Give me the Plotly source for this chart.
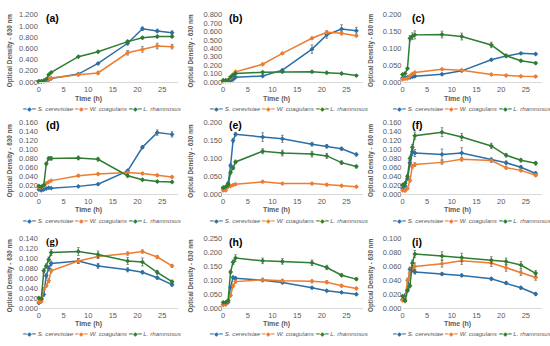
import plotly.graph_objects as go

W, H = 550, 346
time_h = [0, 0.5, 1, 1.5, 2, 2.5, 8, 12, 18, 21, 24, 27]
series_names = ["S. cerevisiae", "W. coagulans", "L. rhamnosus"]
panel_labels = ["(a)", "(b)", "(c)", "(d)", "(e)", "(f)", "(g)", "(h)", "(i)"]

# Optical density values
a_sc = [0.01, 0.01, 0.01, 0.02, 0.04, 0.06, 0.14, 0.33, 0.69, 0.95, 0.91, 0.88]
a_wc = [0.01, 0.01, 0.02, 0.03, 0.05, 0.07, 0.13, 0.16, 0.52, 0.58, 0.64, 0.63]
a_lr = [0.01, 0.01, 0.02, 0.05, 0.13, 0.17, 0.45, 0.54, 0.72, 0.79, 0.81, 0.81]
b_sc = [0.01, 0.01, 0.01, 0.01, 0.03, 0.055, 0.07, 0.14, 0.39, 0.56, 0.63, 0.61]
b_wc = [0.01, 0.01, 0.02, 0.05, 0.09, 0.12, 0.21, 0.34, 0.52, 0.59, 0.58, 0.55]
b_lr = [0.02, 0.02, 0.02, 0.06, 0.08, 0.10, 0.115, 0.12, 0.12, 0.11, 0.10, 0.075]
c_sc = [0.012, 0.013, 0.014, 0.013, 0.015, 0.017, 0.023, 0.033, 0.066, 0.077, 0.085, 0.083]
c_wc = [0.008, 0.009, 0.010, 0.018, 0.024, 0.028, 0.038, 0.035, 0.022, 0.019, 0.017, 0.016]
c_lr = [0.022, 0.025, 0.040, 0.130, 0.136, 0.140, 0.141, 0.135, 0.110, 0.078, 0.063, 0.056]
d_sc = [0.010, 0.008, 0.010, 0.012, 0.014, 0.013, 0.017, 0.022, 0.052, 0.105, 0.138, 0.134]
d_wc = [0.015, 0.015, 0.018, 0.024, 0.027, 0.030, 0.041, 0.045, 0.048, 0.046, 0.042, 0.038]
d_lr = [0.018, 0.016, 0.020, 0.068, 0.080, 0.080, 0.081, 0.078, 0.041, 0.032, 0.028, 0.027]
e_sc = [0.015, 0.015, 0.030, 0.080, 0.150, 0.168, 0.160, 0.155, 0.140, 0.134, 0.127, 0.111]
e_wc = [0.010, 0.010, 0.020, 0.022, 0.025, 0.027, 0.034, 0.029, 0.029, 0.026, 0.023, 0.020]
e_lr = [0.018, 0.020, 0.025, 0.060, 0.073, 0.090, 0.120, 0.115, 0.112, 0.107, 0.088, 0.077]
f_sc = [0.012, 0.018, 0.035, 0.070, 0.095, 0.092, 0.089, 0.092, 0.077, 0.070, 0.060, 0.046]
f_wc = [0.008, 0.007, 0.012, 0.030, 0.062, 0.066, 0.071, 0.078, 0.075, 0.059, 0.053, 0.042]
f_lr = [0.020, 0.024, 0.040, 0.080, 0.105, 0.131, 0.139, 0.128, 0.108, 0.087, 0.076, 0.069]
g_sc = [0.010, 0.017, 0.027, 0.065, 0.080, 0.090, 0.095, 0.085, 0.077, 0.072, 0.061, 0.047]
g_wc = [0.012, 0.013, 0.038, 0.045, 0.055, 0.075, 0.095, 0.104, 0.110, 0.114, 0.103, 0.085]
g_lr = [0.020, 0.019, 0.075, 0.085, 0.098, 0.112, 0.114, 0.108, 0.095, 0.093, 0.072, 0.053]
h_sc = [0.012, 0.013, 0.020, 0.075, 0.110, 0.107, 0.100, 0.092, 0.073, 0.062, 0.056, 0.049]
h_wc = [0.010, 0.012, 0.025, 0.045, 0.080, 0.095, 0.102, 0.098, 0.096, 0.093, 0.080, 0.070]
h_lr = [0.020, 0.020, 0.027, 0.130, 0.165, 0.180, 0.170, 0.168, 0.163, 0.146, 0.118, 0.104]
i_sc = [0.012, 0.018, 0.026, 0.056, 0.055, 0.052, 0.049, 0.047, 0.042, 0.036, 0.029, 0.020]
i_wc = [0.011, 0.012, 0.040, 0.050, 0.057, 0.060, 0.064, 0.068, 0.065, 0.058, 0.051, 0.044]
i_lr = [0.017, 0.010, 0.025, 0.032, 0.065, 0.078, 0.075, 0.073, 0.069, 0.067, 0.062, 0.050]

# Error bar half-lengths (estimated)
a_sc_e = [0, 0, 0, 0, 0, 0, 0.01, 0.01, 0.03, 0.03, 0.03, 0.03]
a_wc_e = [0, 0, 0, 0, 0, 0, 0.02, 0.03, 0.04, 0.05, 0.05, 0.04]
a_lr_e = [0, 0, 0, 0, 0.01, 0.01, 0.01, 0.01, 0.02, 0.02, 0.02, 0.02]
b_sc_e = [0, 0, 0, 0, 0, 0, 0.01, 0.01, 0.05, 0.04, 0.05, 0.04]
b_wc_e = [0, 0, 0, 0, 0, 0, 0.01, 0.01, 0.01, 0.02, 0.02, 0.01]
b_lr_e = [0, 0, 0, 0, 0, 0, 0.005, 0.005, 0.005, 0.005, 0.005, 0.005]
c_sc_e = [0, 0, 0, 0, 0, 0, 0.002, 0.002, 0.002, 0.002, 0.002, 0.002]
c_wc_e = [0, 0, 0, 0, 0, 0, 0.002, 0.002, 0.002, 0.002, 0.002, 0.002]
c_lr_e = [0, 0, 0, 0.008, 0.01, 0.012, 0.01, 0.01, 0.008, 0.004, 0.003, 0.003]
d_sc_e = [0, 0, 0, 0, 0, 0, 0.002, 0.002, 0.003, 0.003, 0.006, 0.006]
d_wc_e = [0, 0, 0, 0, 0, 0, 0.002, 0.002, 0.002, 0.002, 0.002, 0.002]
d_lr_e = [0, 0, 0, 0.003, 0.004, 0.004, 0.004, 0.004, 0.003, 0.002, 0.002, 0.002]
e_sc_e = [0, 0, 0, 0.005, 0.006, 0.005, 0.012, 0.01, 0.005, 0.005, 0.004, 0.004]
e_wc_e = [0, 0, 0, 0, 0, 0, 0.002, 0.002, 0.002, 0.002, 0.002, 0.002]
e_lr_e = [0, 0, 0, 0.004, 0.004, 0.005, 0.007, 0.008, 0.008, 0.007, 0.005, 0.004]
f_sc_e = [0, 0, 0.003, 0.005, 0.008, 0.008, 0.012, 0.012, 0.004, 0.004, 0.004, 0.004]
f_wc_e = [0, 0, 0, 0.003, 0.004, 0.004, 0.004, 0.004, 0.004, 0.003, 0.003, 0.003]
f_lr_e = [0, 0, 0.003, 0.005, 0.006, 0.008, 0.01, 0.008, 0.006, 0.004, 0.004, 0.004]
g_sc_e = [0, 0, 0.003, 0.004, 0.005, 0.005, 0.005, 0.005, 0.004, 0.003, 0.003, 0.003]
g_wc_e = [0, 0, 0.003, 0.003, 0.004, 0.004, 0.005, 0.004, 0.003, 0.003, 0.003, 0.003]
g_lr_e = [0, 0, 0.004, 0.004, 0.005, 0.006, 0.008, 0.007, 0.007, 0.008, 0.004, 0.003]
h_sc_e = [0, 0, 0, 0.004, 0.005, 0.004, 0.004, 0.004, 0.003, 0.003, 0.003, 0.003]
h_wc_e = [0, 0, 0, 0.004, 0.005, 0.005, 0.005, 0.005, 0.005, 0.005, 0.004, 0.004]
h_lr_e = [0, 0, 0, 0.006, 0.008, 0.012, 0.01, 0.01, 0.01, 0.008, 0.005, 0.005]
i_sc_e = [0, 0, 0.002, 0.003, 0.003, 0.003, 0.002, 0.002, 0.002, 0.002, 0.002, 0.002]
i_wc_e = [0, 0, 0.003, 0.003, 0.004, 0.005, 0.005, 0.005, 0.005, 0.005, 0.004, 0.004]
i_lr_e = [0, 0, 0.002, 0.003, 0.004, 0.005, 0.006, 0.006, 0.005, 0.005, 0.005, 0.004]

y_max = [1.2, 0.8, 0.2, 0.16, 0.2, 0.16, 0.14, 0.25, 0.1]
y_step = [0.2, 0.1, 0.05, 0.02, 0.05, 0.02, 0.02, 0.05, 0.02]

panels = [
    (a_sc, a_wc, a_lr, a_sc_e, a_wc_e, a_lr_e),
    (b_sc, b_wc, b_lr, b_sc_e, b_wc_e, b_lr_e),
    (c_sc, c_wc, c_lr, c_sc_e, c_wc_e, c_lr_e),
    (d_sc, d_wc, d_lr, d_sc_e, d_wc_e, d_lr_e),
    (e_sc, e_wc, e_lr, e_sc_e, e_wc_e, e_lr_e),
    (f_sc, f_wc, f_lr, f_sc_e, f_wc_e, f_lr_e),
    (g_sc, g_wc, g_lr, g_sc_e, g_wc_e, g_lr_e),
    (h_sc, h_wc, h_lr, h_sc_e, h_wc_e, h_lr_e),
    (i_sc, i_wc, i_lr, i_sc_e, i_wc_e, i_lr_e),
]

colors = ["#2B6FA6", "#ED7D31", "#2E7D32"]
FONT = "Liberation Sans"
GREY = "#595959"

# layout geometry in pixels
col_x0 = [37, 222, 402]          # pixel of x=0
px_per_unit = 4.95
x_max = 28.3
row_y = [(11, 80), (122, 195), (241, 312)]   # (top tick px, zero px)
ytitle_x = [8, 190, 371]
time_x = [87, 275, 457]
time_y = [98, 212, 329]
leg_x = [100, 288, 471]
leg_y = [107, 222, 338]
lab_x = [42, 226, 409]
lab_y = [14, 124, 244]


def px(x):
    return x / W


def py(y):
    return 1 - y / H


fig = go.Figure()
annotations = []
layout = {}

for k, (sc, wc, lr, sce, wce, lre) in enumerate(panels):
    r, c = divmod(k, 3)
    idx = "" if k == 0 else str(k + 1)
    xa, ya = "x" + idx, "y" + idx
    for name, vals, errs, col in zip(series_names, (sc, wc, lr), (sce, wce, lre), colors):
        fig.add_trace(go.Scatter(
            x=time_h, y=vals, mode="lines+markers", name=name,
            xaxis=xa, yaxis=ya, showlegend=False, cliponaxis=False,
            line=dict(color=col, width=1.5),
            marker=dict(color=col, size=3.8, symbol="diamond"),
            error_y=dict(type="data", array=errs, visible=True,
                         color="#5a5a5a", thickness=0.7, width=1.3),
        ))
    x0 = col_x0[c]
    x1 = x0 + px_per_unit * x_max
    top, zero = row_y[r]
    layout["xaxis" + idx] = dict(
        domain=[px(x0), px(x1)], anchor=ya, range=[0, x_max],
        tickmode="array", tickvals=[0, 5, 10, 15, 20, 25],
        showgrid=False, zeroline=False, showline=True, linecolor="#D9D9D9",
        linewidth=0.8, ticks="", tickfont=dict(size=7.5, color=GREY, family=FONT),
    )
    layout["yaxis" + idx] = dict(
        domain=[py(zero), py(top)], anchor=xa, range=[0, y_max[k]],
        dtick=y_step[k], tick0=0, tickformat=".3f",
        showgrid=False, zeroline=False, showline=False, ticks="",
        tickfont=dict(size=7.5, color=GREY, family=FONT),
    )
    # y axis title
    annotations.append(dict(
        x=px(ytitle_x[c]), y=py((top + zero) / 2 + 2), xref="paper", yref="paper",
        text="<b>Optical Density - 630 nm</b>", textangle=-90, showarrow=False,
        font=dict(size=6.3, color=GREY, family=FONT), xanchor="center", yanchor="middle",
    ))
    # x axis title
    annotations.append(dict(
        x=px(time_x[c]), y=py(time_y[r]), xref="paper", yref="paper",
        text="<b>Time (h)</b>", showarrow=False,
        font=dict(size=7, color=GREY, family=FONT), xanchor="center", yanchor="middle",
    ))
    # legend row
    parts = []
    for name, col in zip(series_names, colors):
        parts.append(f"<span style='color:{col};font-size:5.5px'>━◆━</span> <i>{name}</i>")
    annotations.append(dict(
        x=px(leg_x[c]), y=py(leg_y[r]), xref="paper", yref="paper",
        text=" ".join(parts), showarrow=False,
        font=dict(size=6.2, color=GREY, family=FONT), xanchor="center", yanchor="middle",
    ))
    # panel label
    lab_font = "Liberation Serif" if panel_labels[k] == "(g)" else FONT
    annotations.append(dict(
        x=px(lab_x[c]), y=py(lab_y[r]), xref="paper", yref="paper",
        text=f"<b>{panel_labels[k]}</b>", showarrow=False,
        font=dict(size=10.5, color="#000000", family=lab_font),
        xanchor="left", yanchor="middle",
    ))

fig.update_layout(
    width=W, height=H, margin=dict(l=0, r=0, t=0, b=0),
    paper_bgcolor="white", plot_bgcolor="white",
    annotations=annotations, showlegend=False,
    font=dict(family=FONT, color=GREY),
    **layout,
)

fig.write_html(
    "out.html",
    config={"displayModeBar": False},
    post_script="document.body.style.margin='0';document.body.style.overflow='hidden';",
)
